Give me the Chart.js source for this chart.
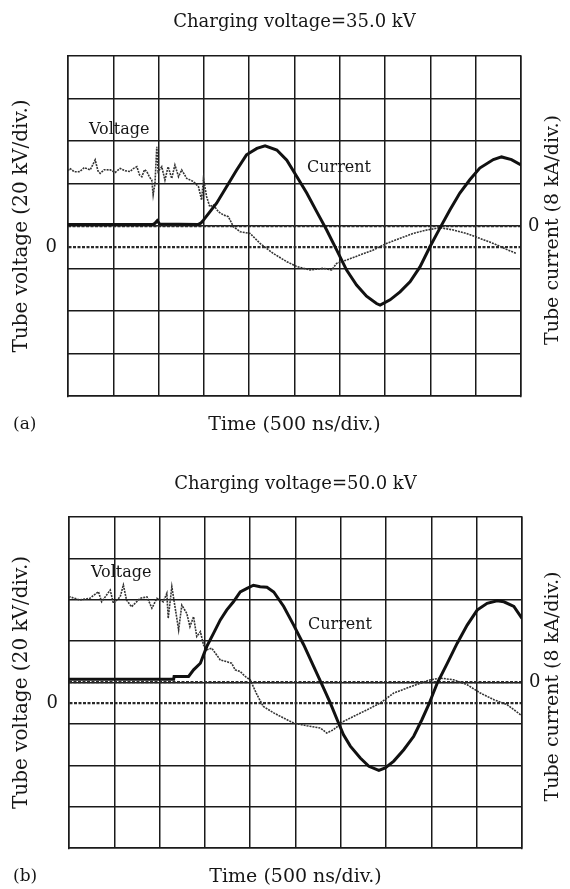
<!DOCTYPE html>
<html>
<head>
<meta charset="utf-8">
<title>Tube voltage and current waveforms</title>
<script src="https://cdn.jsdelivr.net/npm/chart.js@4.4.1/dist/chart.umd.min.js"></script>
<style>
  html, body { margin: 0; padding: 0; background: #fff; }
  body { width: 570px; height: 889px; position: relative; overflow: hidden; }
  canvas { position: absolute; left: 0; }
  #chartA { top: 0; }
  #chartB { top: 461px; }
</style>
</head>
<body>
<canvas id="chartA" width="570" height="460"></canvas>
<canvas id="chartB" width="570" height="428"></canvas>
<script>
const FONT = "'DejaVu Serif', serif";
const INK = "#161616";
const GRID = "#1a1a1a";

// (a) charging voltage 35.0 kV -- time in ns, voltage in kV, current in kA
const voltTimeA = [0, 20, 70, 130, 180, 245, 300, 330, 355, 400, 465, 520, 575, 630, 685, 720, 760, 790, 815, 845,
  870, 900, 925, 940, 960, 980, 995, 1035, 1070, 1105, 1145, 1180, 1220, 1255, 1310, 1385, 1440, 1475, 1495, 1530,
  1565, 1605, 1660, 1715, 1770, 1825, 1900, 2010, 2120, 2265, 2415, 2525, 2670, 2820, 2910, 2965, 3075, 3225, 3370,
  3515, 3665, 3810, 3960, 4105, 4255, 4400, 4545, 4695, 4840, 4950];
const voltA = [36.0, 37.1, 35.5, 35.6, 37.5, 36.4, 41.1, 36.0, 34.8, 36.5, 36.4, 35.2, 37.1, 36.0, 35.6, 37.0, 37.9, 34.0, 33.2, 36.5,
  35.6, 33.0, 31.6, 24.6, 30.0, 47.3, 35.6, 37.9, 31.6, 37.9, 32.4, 38.7, 33.2, 36.4, 32.4, 30.9, 28.5, 22.2, 32.4, 23.8,
  19.1, 19.9, 16.7, 15.2, 14.4, 9.7, 7.3, 6.5, 1.8, -2.9, -6.8, -9.1, -10.7, -9.9, -10.7, -7.6, -6.0, -3.6, -1.3,
  1.8, 4.2, 6.5, 8.1, 9.2, 8.1, 6.5, 4.2, 1.8, -1.0, -2.9];
const currTimeA = [0, 500, 940, 960, 985, 1010, 1440, 1470, 1495, 1640, 1750, 1860, 1970, 2085, 2175, 2305, 2415, 2525,
  2635, 2745, 2855, 2965, 3075, 3185, 3295, 3405, 3445, 3555, 3665, 3775, 3885, 3995, 4105, 4215, 4325, 4435, 4545,
  4695, 4785, 4895, 5000];
const currA = [0.3, 0.3, 0.3, 0.5, 1.0, 0.4, 0.3, 0.6, 1.1, 4.3, 7.4, 10.5, 13.4, 14.6, 15.1, 14.3, 12.4, 9.3,
  6.2, 2.7, -0.75, -4.5, -8.3, -11.1, -13.2, -14.6, -14.9, -13.9, -12.4, -10.5, -7.7, -3.9, -0.4, 3.0, 6.2, 8.7, 10.9,
  12.5, 13.0, 12.5, 11.5];

// (b) charging voltage 50.0 kV
const voltTimeB = [0, 10, 120, 230, 325, 360, 455, 490, 565, 600, 635, 690, 785, 860, 915, 970, 1040, 1080, 1095, 1135,
  1170, 1210, 1245, 1300, 1335, 1375, 1410, 1450, 1485, 1520, 1575, 1615, 1670, 1740, 1795, 1835, 1890, 1945, 2000,
  2075, 2145, 2260, 2370, 2480, 2625, 2775, 2845, 2920, 3030, 3140, 3290, 3435, 3585, 3730, 3880, 3990, 4100, 4245,
  4395, 4540, 4690, 4835, 4985];
const voltB = [51.0, 51.4, 49.9, 50.7, 53.9, 49.0, 54.7, 48.3, 51.4, 57.1, 49.9, 46.6, 50.7, 51.4, 45.9, 50.7, 49.0, 53.1, 41.0, 56.3,
  46.6, 35.4, 47.4, 43.4, 37.0, 41.8, 32.2, 34.6, 28.2, 25.8, 26.6, 24.2, 20.9, 20.1, 19.3, 16.1, 15.3, 12.9, 11.3,
  4.1, -1.6, -4.7, -7.2, -9.6, -10.9, -12.0, -14.4, -12.8, -8.8, -6.4, -3.2, 0.1, 4.9, 7.3, 9.7, 11.3, 12.1, 11.3,
  8.9, 4.9, 1.7, -0.7, -5.6];
const currTimeB = [0, 1155, 1160, 1320, 1375, 1450, 1520, 1595, 1670, 1740, 1815, 1890, 1965, 2035, 2110, 2185, 2260,
  2370, 2480, 2590, 2700, 2810, 2885, 2960, 3030, 3105, 3215, 3310, 3420, 3490, 3585, 3695, 3805, 3895, 3970, 4065,
  4175, 4285, 4395, 4505, 4615, 4725, 4800, 4910, 5000];
const currB = [0.65, 0.65, 1.16, 1.16, 2.45, 3.73, 6.94, 9.51, 12.1, 14.0, 15.6, 17.5, 18.2, 18.8, 18.5, 18.4, 17.5,
  14.7, 11.1, 7.3, 3.1, -1.1, -4.0, -7.2, -10.1, -12.3, -14.6, -16.2, -17.0, -16.5, -15.2, -13.0, -10.4, -7.2, -4.3, -0.1,
  3.7, 7.6, 11.1, 14.0, 15.3, 15.8, 15.6, 14.7, 12.4];

function toPoints(xs, ys) {
  return xs.map((x, i) => ({ x: x, y: ys[i] }));
}

// only a "0" tick on the voltage / current axes
function zeroOnly(axis) {
  axis.ticks = [{ value: 0 }];
}

function makePanel(canvasId, opt) {
  const canvas = document.getElementById(canvasId);
  const H = canvas.height;

  const extraText = {
    id: "extraText",
    beforeDraw(chart) {
      // labels inside the plot, grid is drawn over them
      const ctx = chart.ctx;
      ctx.save();
      ctx.fillStyle = INK;
      ctx.textBaseline = "middle";
      ctx.textAlign = "left";
      ctx.font = "16px " + FONT;
      ctx.fillText("Voltage", opt.voltLabel[0], opt.voltLabel[1]);
      ctx.fillText("Current", opt.currLabel[0], opt.currLabel[1]);
      ctx.restore();
    },
    afterDraw(chart) {
      const ctx = chart.ctx;
      const area = chart.chartArea;
      ctx.save();
      ctx.fillStyle = INK;
      ctx.textBaseline = "middle";
      ctx.textAlign = "left";
      ctx.font = "17px " + FONT;
      ctx.fillText(opt.tag, 13, opt.xTitleY);
      // right axis title reads bottom to top, like the left one
      ctx.font = "19px " + FONT;
      ctx.textAlign = "center";
      ctx.translate(553, (area.top + area.bottom) / 2 + 4);
      ctx.rotate(-Math.PI / 2);
      ctx.fillText("Tube current (8 kA/div.)", 0, 0);
      ctx.restore();
    },
  };

  return new Chart(canvas, {
    type: "line",
    data: {
      datasets: [
        {
          label: "Current",
          data: toPoints(opt.currTime, opt.curr),
          yAxisID: "yc",
          borderColor: "#111",
          borderWidth: 3,
          pointRadius: 0,
          order: 1,
        },
        {
          label: "Voltage",
          data: toPoints(opt.voltTime, opt.volt),
          yAxisID: "yv",
          borderColor: "#333",
          borderWidth: 1.6,
          borderDash: [2, 1],
          pointRadius: 0,
          order: 2,
        },
      ],
    },
    options: {
      responsive: false,
      animation: false,
      devicePixelRatio: 1,
      layout: { padding: 0 },
      plugins: {
        legend: { display: false },
        tooltip: { enabled: false },
        title: {
          display: true,
          fullSize: false,
          text: opt.title,
          color: INK,
          font: { family: FONT, size: 18, weight: "normal" },
          padding: { top: opt.titleY - 10.8, bottom: opt.top - opt.titleY - 10.8 },
        },
      },
      scales: {
        x: {
          type: "linear",
          min: 0,
          max: 5000,
          ticks: { stepSize: 500, display: false },
          grid: { color: GRID, lineWidth: 1.5, drawTicks: false },
          border: { display: true, color: GRID, width: 1.5 },
          title: {
            display: true,
            text: "Time (500 ns/div.)",
            color: INK,
            font: { family: FONT, size: 19 },
            padding: { top: 0, bottom: H - opt.xTitleY - 11.4 },
          },
          afterFit(s) { s.height = H - opt.bottom; },
        },
        yd: {
          type: "linear",
          position: "left",
          min: -4,
          max: 4,
          ticks: { stepSize: 1, display: false },
          grid: { color: GRID, lineWidth: 1.5, drawTicks: false },
          border: { display: false },
          afterFit(s) { s.width = 0; },
        },
        yv: {
          type: "linear",
          position: "left",
          min: -70,
          max: 90,
          afterBuildTicks: zeroOnly,
          ticks: { padding: 11, color: INK, font: { family: FONT, size: 18 } },
          grid: { color: "#2a2a2a", lineWidth: 2.2, drawTicks: false },
          border: { display: true, color: GRID, width: 1.5, dash: [3, 1.5] },
          title: {
            display: true,
            text: "Tube voltage (20 kV/div.)",
            color: INK,
            font: { family: FONT, size: 20 },
            padding: { top: 10, bottom: 0 },
          },
          afterFit(s) { s.width = opt.left; },
        },
        yc: {
          type: "linear",
          position: "right",
          min: -32,
          max: 32,
          afterBuildTicks: zeroOnly,
          ticks: { padding: 7, color: INK, font: { family: FONT, size: 18 } },
          grid: { color: "#2a2a2a", lineWidth: 2.2, drawTicks: false },
          border: { display: true, color: GRID, width: 1.5, dash: [3, 1.5] },
          afterFit(s) { s.width = 570 - opt.right; },
        },
      },
    },
    plugins: [extraText],
  });
}

makePanel("chartA", {
  title: "Charging voltage=35.0 kV",
  tag: "(a)",
  voltTime: voltTimeA, volt: voltA, currTime: currTimeA, curr: currA,
  titleY: 22, top: 56, bottom: 396, left: 68, right: 521, xTitleY: 425,
  voltLabel: [89, 130], currLabel: [307, 168],
});

makePanel("chartB", {
  title: "Charging voltage=50.0 kV",
  tag: "(b)",
  voltTime: voltTimeB, volt: voltB, currTime: currTimeB, curr: currB,
  titleY: 23, top: 56, bottom: 387, left: 69, right: 522, xTitleY: 416,
  voltLabel: [91, 112], currLabel: [308, 164],
});
</script>
</body>
</html>
